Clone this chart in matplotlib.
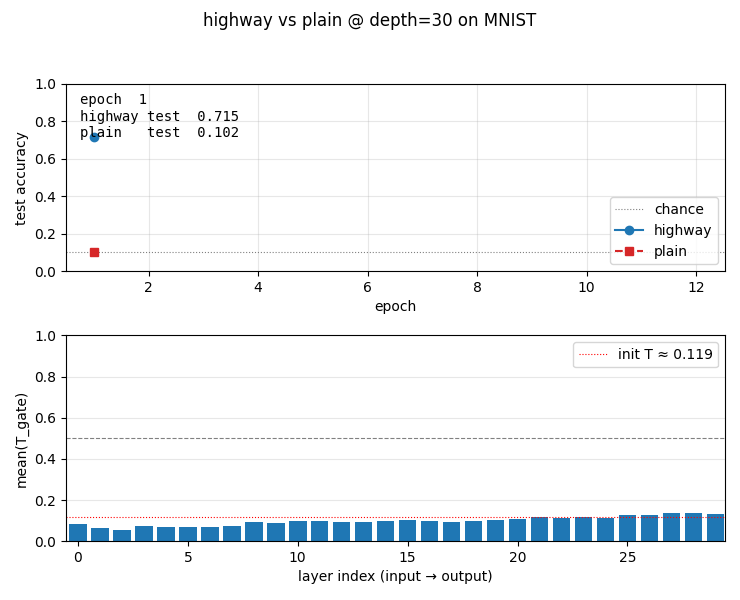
import numpy as np
import matplotlib
matplotlib.use("Agg")
import matplotlib.pyplot as plt

# top panel: accuracy per epoch
epochs = [1]
highway_acc = [0.715]
plain_acc = [0.102]
chance = 0.1

# bottom panel: mean transform gate per layer
gate_means = [0.082, 0.063, 0.053, 0.073, 0.068, 0.068, 0.068, 0.073, 0.092, 0.087,
              0.097, 0.097, 0.092, 0.092, 0.097, 0.102, 0.097, 0.092, 0.097, 0.102,
              0.106, 0.116, 0.111, 0.116, 0.111, 0.126, 0.126, 0.135, 0.135, 0.131]
init_T = 0.119

fig = plt.figure(figsize=(7.4, 6.0), dpi=100)
fig.suptitle("highway vs plain @ depth=30 on MNIST")

ax1 = fig.add_axes([0.089, 0.548, 0.891, 0.312])
ax1.axhline(chance, color="gray", ls=":", lw=0.8, label="chance")
ax1.plot(epochs, highway_acc, "o-", color="tab:blue", label="highway")
ax1.plot(epochs, plain_acc, "s--", color="tab:red", label="plain")
ax1.set_xlim(0.49, 12.53)
ax1.set_ylim(0, 1)
ax1.set_xlabel("epoch")
ax1.set_ylabel("test accuracy")
ax1.grid(alpha=0.3)
ax1.legend(loc="lower right")
ax1.text(0.021, 0.95,
         "epoch  %d\nhighway test  %.3f\nplain   test  %.3f" % (epochs[-1], highway_acc[-1], plain_acc[-1]),
         transform=ax1.transAxes, va="top", ha="left", family="monospace")

ax2 = fig.add_axes([0.089, 0.098, 0.891, 0.343])
layers = np.arange(len(gate_means))
ax2.bar(layers, gate_means, color="tab:blue")
ax2.axhline(0.5, color="gray", ls="--", lw=0.8)
ax2.axhline(init_T, color="red", ls=":", lw=0.8, label="init T \u2248 %.3f" % init_T)
ax2.set_xlim(-0.55, len(gate_means) - 0.55)
ax2.set_ylim(0, 1)
ax2.set_xlabel("layer index (input \u2192 output)")
ax2.set_ylabel("mean(T_gate)")
ax2.grid(axis="y", alpha=0.3)
ax2.legend(loc="upper right")

fig.savefig("out.png")
